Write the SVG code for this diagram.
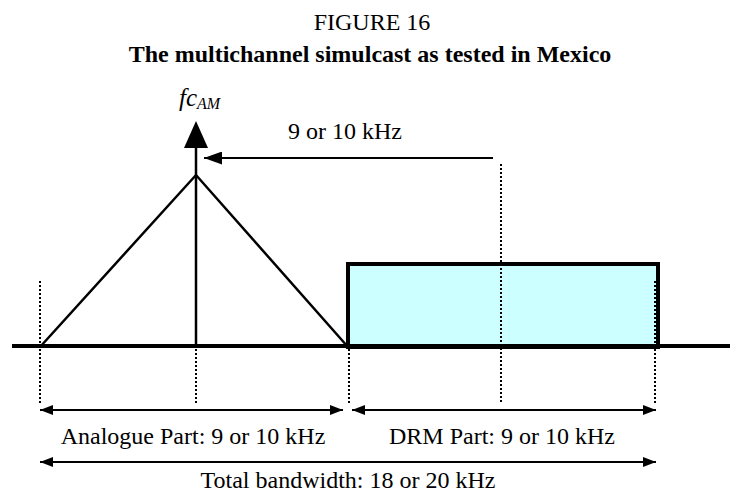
<svg xmlns="http://www.w3.org/2000/svg" width="732" height="492" viewBox="0 0 732 492">
<style>
text{font-family:"Liberation Serif","Times New Roman",serif;fill:#000;font-size:24px}
.t{text-anchor:middle}
.b{font-weight:bold}
.dot{stroke:#000;stroke-width:2;stroke-dasharray:2 2;fill:none}
.ln{stroke:#000;fill:none}
</style>
<defs>
<marker id="ah" markerWidth="13" markerHeight="10" refX="13" refY="5" orient="auto-start-reverse" markerUnits="userSpaceOnUse" viewBox="0 0 13 10">
<path d="M0,0 L13,5 L0,10 Z" fill="#000"/>
</marker>
<marker id="ah2" markerWidth="18" markerHeight="13" refX="18" refY="6.5" orient="auto-start-reverse" markerUnits="userSpaceOnUse" viewBox="0 0 18 13">
<path d="M0,0 L18,6.5 L0,13 Z" fill="#000"/>
</marker>
</defs>
<text class="t" x="372" y="30">FIGURE 16</text>
<text class="t b" x="370" y="62">The multichannel simulcast as tested in Mexico</text>

<g id="spectrum">
<g id="drm-block"><rect x="348" y="264" width="310" height="83" fill="#CCFFFF" stroke="#000" stroke-width="4"/></g>
<g id="analogue-triangle"><polyline class="ln" stroke-width="2.5" points="40,347 196,175 348,347"/></g>
<g id="carrier">
<line class="ln" stroke-width="2.5" x1="196" y1="140" x2="196" y2="347"/>
<path d="M196,121 L208,148 L184,148 Z" fill="#000"/>
<text x="179" y="106" style="font-style:italic;font-size:25px">fc<tspan dy="3" style="font-size:16px">AM</tspan></text>
</g>
<g id="axis"><line class="ln" stroke-width="4" x1="12" y1="346" x2="730" y2="346"/></g>
</g>

<g id="guides">
<line class="dot" x1="40" y1="281" x2="40" y2="403"/>
<line class="dot" x1="196" y1="349" x2="196" y2="403"/>
<line class="dot" x1="349" y1="349" x2="349" y2="403"/>
<line class="dot" x1="501" y1="164" x2="501" y2="403"/>
<line class="dot" x1="655" y1="281" x2="655" y2="403"/>
</g>

<g id="connectors">
<line class="ln" stroke-width="2" x1="204" y1="158" x2="493" y2="158" marker-start="url(#ah2)"/>
<line class="ln" stroke-width="2" x1="40" y1="410" x2="343" y2="410" marker-start="url(#ah)" marker-end="url(#ah)"/>
<line class="ln" stroke-width="2" x1="352" y1="410" x2="656" y2="410" marker-start="url(#ah)" marker-end="url(#ah)"/>
<line class="ln" stroke-width="2" x1="40" y1="462" x2="656" y2="462" marker-start="url(#ah)" marker-end="url(#ah)"/>
</g>

<g id="labels">
<text class="t" x="345" y="139">9 or 10 kHz</text>
<text class="t" x="193" y="444">Analogue Part: 9 or 10 kHz</text>
<text class="t" x="502" y="444">DRM Part: 9 or 10 kHz</text>
<text class="t" x="348" y="488">Total bandwidth: 18 or 20 kHz</text>
</g>
</svg>
